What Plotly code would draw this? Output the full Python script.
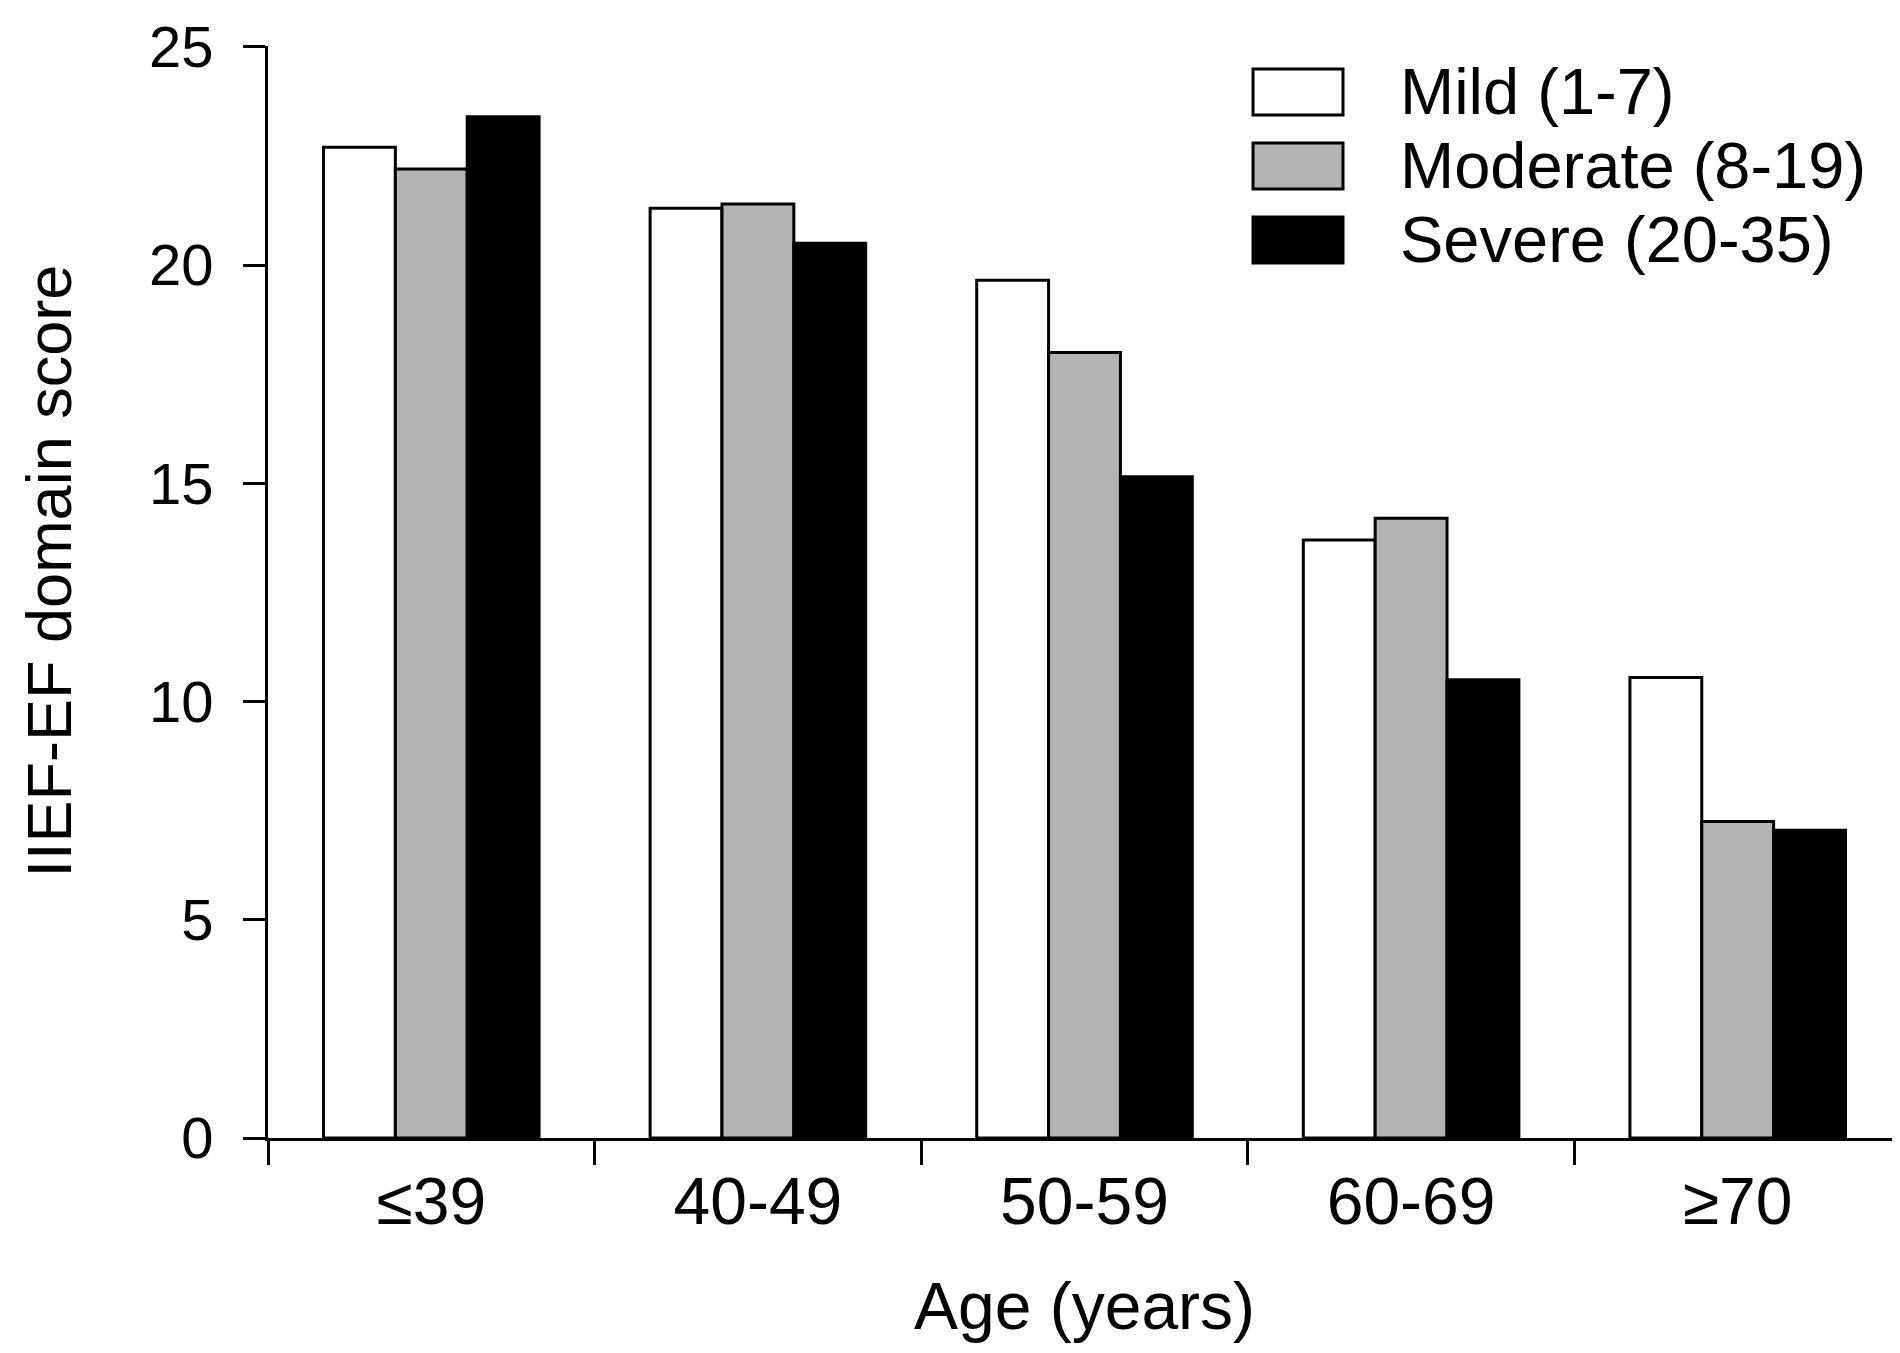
import plotly.graph_objects as go

age_groups = ["≤39", "40-49", "50-59", "60-69", "≥70"]
series_names = ["Mild (1-7)", "Moderate (8-19)", "Severe (20-35)"]
mild = [22.7, 21.3, 19.65, 13.7, 10.55]
moderate = [22.2, 21.4, 18.0, 14.2, 7.25]
severe = [23.4, 20.5, 15.15, 10.5, 7.05]
fills = ["#ffffff", "#b3b3b3", "#000000"]

FONT = "Liberation Sans, Arial, sans-serif"

fig = go.Figure()
for name, vals, col in zip(series_names, [mild, moderate, severe], fills):
    fig.add_trace(go.Bar(x=age_groups, y=vals, name=name,
                         marker=dict(color=col, line=dict(color="black", width=3)), showlegend=False))

# hand-made legend, plotly's own swatches are too small for this look
for i, (name, col) in enumerate(zip(series_names, fills)):
    top = 0.979 - i * 0.0678
    fig.add_shape(type="rect", xref="paper", yref="paper", x0=0.6032, x1=0.6583, y0=top - 0.0421, y1=top,
                  fillcolor=col, line=dict(color="black", width=3))
    fig.add_annotation(xref="paper", yref="paper", x=0.692, y=top - 0.021, text=name, showarrow=False,
                       xanchor="left", yanchor="middle", font=dict(size=65, family=FONT, color="black"))

# y title as annotation so it can sit far left like the original
fig.add_annotation(xref="paper", yref="paper", x=-0.134, y=0.519, text="IIEF-EF domain score", textangle=-90,
                   showarrow=False, xanchor="center", yanchor="middle", font=dict(size=63, family=FONT, color="black"))

fig.update_layout(
    width=1900, height=1353, barmode="group", bargap=0.34, bargroupgap=0,
    plot_bgcolor="white", paper_bgcolor="white",
    margin=dict(l=260, r=7, t=38, b=223),
    font=dict(family=FONT, size=64, color="black"),
)
fig.update_xaxes(showline=True, linecolor="black", linewidth=3, ticks="outside", tickson="boundaries",
                 ticklen=24, tickwidth=3, tickcolor="black", showgrid=False, automargin=False,
                 ticklabelstandoff=4, tickfont=dict(size=66),
                 title=dict(text="Age (years)", font=dict(size=66), standoff=46))
fig.update_yaxes(range=[0, 25.02], tickvals=[0, 5, 10, 15, 20, 25], showline=True, linecolor="black", linewidth=3,
                 ticks="outside", ticklen=22, tickwidth=3, tickcolor="black", showgrid=False, zeroline=False,
                 automargin=False, ticklabeloverflow="allow", ticklabelstandoff=18, tickfont=dict(size=58))

fig.write_html("out.html")
